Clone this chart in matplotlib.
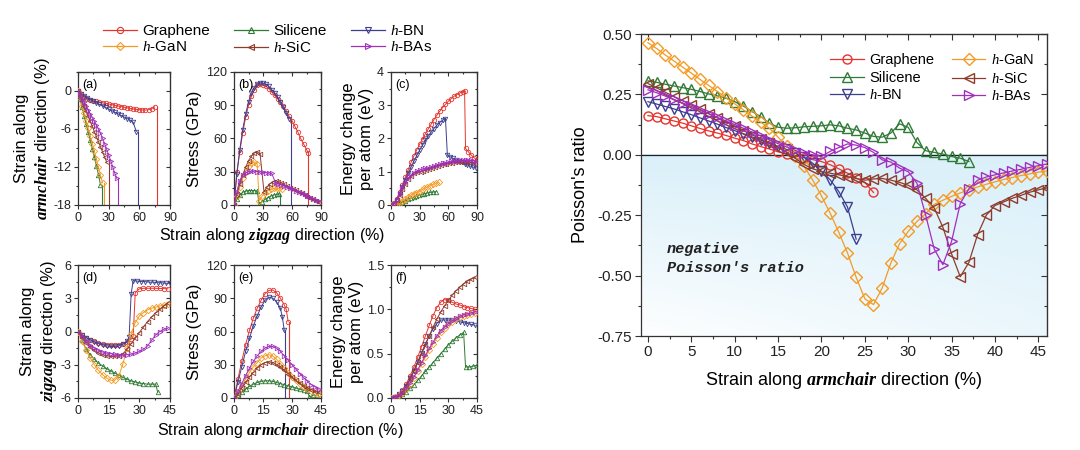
import numpy as np
import matplotlib
matplotlib.use("Agg")
import matplotlib.pyplot as plt
from matplotlib.ticker import MultipleLocator, FormatStrFormatter
from matplotlib.lines import Line2D

plt.rcParams["font.family"] = ["Liberation Sans", "DejaVu Sans"]
plt.rcParams["mathtext.fontset"] = "custom"
plt.rcParams["mathtext.rm"] = "Liberation Sans"
plt.rcParams["mathtext.it"] = "Liberation Serif:italic"
plt.rcParams["mathtext.bf"] = "Liberation Serif:italic:bold"
plt.rcParams["axes.unicode_minus"] = False

# --- materials / styles ---
names = ["Graphene", "Silicene", "h-BN", "h-GaN", "h-SiC", "h-BAs"]
labels = ["Graphene", "Silicene", "$h$-BN", "$h$-GaN", "$h$-SiC", "$h$-BAs"]
colors = ["#e5352f", "#2f7a34", "#3c3f8e", "#f39b25", "#8e3b2c", "#a12fbd"]
markers = ["o", "^", "v", "D", "<", ">"]

# --- (a) strain along armchair vs zigzag strain ---
a_x = [np.arange(0, 76, 3), np.arange(0, 23, 2), np.arange(0, 58, 3),
       np.arange(0, 25, 2), np.arange(0, 29, 2), np.arange(0, 39, 2)]
a_graphene = [0, -0.5, -0.9, -1.2, -1.4, -1.55, -1.65, -1.75, -1.85, -1.95, -2.05, -2.15, -2.25,
              -2.35, -2.45, -2.55, -2.65, -2.75, -2.85, -2.9, -2.95, -3.0, -3.0, -2.95, -2.8, -2.5]
a_silicene = [0, -1.3, -2.6, -3.9, -5.2, -6.5, -7.8, -9.1, -10.4, -11.8, -13.2, -14.8]
a_bn = [0, -0.4, -0.75, -1.05, -1.35, -1.6, -1.85, -2.1, -2.35, -2.6, -2.85, -3.1, -3.35,
        -3.6, -3.85, -4.1, -4.35, -4.6, -4.95, -6.4]
a_gan = [0, -1.1, -2.3, -3.5, -4.7, -5.9, -7.1, -8.3, -9.5, -10.8, -12.0, -13.3, -14.5]
a_sic = [0, -0.8, -1.6, -2.4, -3.2, -4.0, -4.8, -5.6, -6.4, -7.2, -8.0, -8.8, -9.6, -10.4, -11.2]
a_bas = [0, -0.6, -1.2, -1.8, -2.4, -3.0, -3.6, -4.2, -4.8, -5.4, -6.0, -6.7, -7.5, -8.3,
         -9.2, -10.1, -11.0, -12.0, -13.0, -13.8]
a_y = [a_graphene, a_silicene, a_bn, a_gan, a_sic, a_bas]
a_fracture = [77, 23.5, 58.5, 25, 30, 39]

# --- (b) stress vs zigzag strain ---
b_x = [np.r_[np.arange(0, 76, 3), 77],
       np.r_[np.arange(0, 25, 3), np.arange(26, 48, 3)],
       np.arange(0, 58, 3),
       np.r_[np.arange(0, 25, 3), np.arange(26, 51, 3)],
       np.r_[np.arange(0, 30, 3), np.arange(31, 90, 3)],
       np.r_[np.arange(0, 42, 3), np.arange(43, 90, 3)]]
b_graphene = [0, 30, 48, 65, 79, 90, 98, 104, 108, 109, 108.5, 107, 105, 102, 99, 96, 93, 89,
              85, 80, 76, 71, 66, 60, 55, 50, 47]
b_silicene = [0, 5, 9, 11.5, 12.5, 13, 13, 13, 12.5, 1, 3, 5, 6.5, 8, 9, 9.5, 10]
b_bn = [0, 28, 50, 68, 82, 93, 101, 106, 109, 110, 110, 109, 107, 104, 101, 97, 93, 88, 83, 78]
b_gan = [0, 8, 16, 24, 30, 35, 38, 39, 37, 4, 8, 11, 13, 14, 15, 15, 15, 14]
b_sic = [0, 10, 19, 27, 34, 40, 44, 47, 48, 46,
         12, 16, 19, 21, 22, 21, 20, 18.5, 17, 15.5, 14.5, 13.5, 12, 10.5, 9, 7.5, 6, 5, 4, 3]
b_bas = [0, 12, 22, 27, 29, 30, 30.5, 30.5, 30, 30, 29.5, 29, 29, 28.5,
         20, 19, 18, 17, 16, 15, 14, 13, 12, 11, 9.5, 8, 7, 5.5, 4.5, 3.5]
b_y = [b_graphene, b_silicene, b_bn, b_gan, b_sic, b_bas]
b_fracture = [77, 48, 59, None, None, None]

# --- (c) energy vs zigzag strain ---
c_x = [np.r_[np.arange(0, 76, 3), 77, np.arange(78, 91, 3)],
       b_x[1],
       np.r_[np.arange(0, 58, 3), np.arange(59, 90, 3)],
       b_x[3],
       b_x[4],
       np.arange(0, 91, 3)]
c_graphene = [0, 0.05, 0.18, 0.38, 0.6, 0.83, 1.06, 1.28, 1.48, 1.66, 1.83, 1.99, 2.14, 2.29,
              2.43, 2.57, 2.7, 2.82, 2.93, 3.03, 3.12, 3.2, 3.27, 3.32, 3.37, 3.41, 3.43,
              1.7, 1.6, 1.5, 1.42, 1.35]
c_silicene = [0, 0.005, 0.02, 0.05, 0.09, 0.13, 0.17, 0.21, 0.24, 0.26, 0.29, 0.32, 0.34,
              0.36, 0.38, 0.39, 0.4]
c_bn = [0, 0.04, 0.16, 0.34, 0.54, 0.75, 0.95, 1.14, 1.32, 1.49, 1.65, 1.8, 1.94, 2.07, 2.19,
        2.3, 2.4, 2.48, 2.55, 2.6,
        1.5, 1.45, 1.4, 1.36, 1.32, 1.28, 1.24, 1.2, 1.17, 1.14, 1.12]
c_gan = [0, 0.01, 0.03, 0.07, 0.13, 0.19, 0.25, 0.3, 0.34, 0.36, 0.4, 0.45, 0.5, 0.54, 0.58,
         0.62, 0.65, 0.68]
c_sic = [0, 0.04, 0.15, 0.31, 0.48, 0.64, 0.78, 0.88, 0.95, 0.99,
         1.0, 1.03, 1.06, 1.09, 1.12, 1.15, 1.18, 1.2, 1.22, 1.24, 1.26, 1.27, 1.28, 1.29,
         1.3, 1.3, 1.3, 1.29, 1.28, 1.27]
c_bas = [0, 0.04, 0.15, 0.32, 0.5, 0.67, 0.8, 0.9, 0.97, 1.02, 1.05, 1.08, 1.1, 1.12, 1.15,
         1.18, 1.21, 1.23, 1.25, 1.27, 1.29, 1.31, 1.32, 1.33, 1.34, 1.35, 1.35, 1.35, 1.34,
         1.33, 1.32]
c_y = [c_graphene, c_silicene, c_bn, c_gan, c_sic, c_bas]

# --- (d) strain along zigzag vs armchair strain ---
d_x = [np.r_[np.arange(0, 27, 2), 27, np.arange(28, 45, 2)],
       np.r_[np.arange(0, 39, 2), 39],
       np.r_[np.arange(0, 25, 2), 25, 26, np.arange(27, 46, 2)],
       np.arange(0, 45, 2), np.arange(0, 45, 2), np.arange(0, 45, 2)]
d_graphene = [0, -0.3, -0.55, -0.75, -0.9, -1.05, -1.15, -1.2, -1.25, -1.25, -1.2, -1.1, -0.95,
              -0.7, -0.4, 3.5, 3.85, 3.9, 3.9, 3.9, 3.9, 3.88, 3.87, 3.85]
d_silicene = [0, -0.8, -1.6, -2.1, -2.5, -2.85, -3.1, -3.35, -3.55, -3.75, -3.95, -4.15, -4.3,
              -4.45, -4.55, -4.65, -4.7, -4.75, -4.75, -4.75, -5.5]
d_bn = [0, -0.3, -0.55, -0.75, -0.95, -1.1, -1.2, -1.3, -1.35, -1.35, -1.3, -1.15, -0.9,
        -0.5, 3.4, 4.6, 4.55, 4.5, 4.5, 4.45, 4.45, 4.4, 4.4, 4.35, 4.35]
d_gan = [0, -0.9, -1.7, -2.4, -3.0, -3.5, -3.9, -4.2, -4.4, -4.4, -4.0, -2.9, -1.5, -0.2, 0.8,
         1.4, 1.7, 1.95, 2.1, 2.2, 2.3, 2.4, 2.5]
d_sic = [0, -0.5, -1.0, -1.4, -1.7, -1.95, -2.1, -2.2, -2.25, -2.25, -2.2, -2.0, -1.6, -1.1,
         -0.6, -0.1, 0.4, 0.9, 1.3, 1.7, 2.0, 2.3, 2.6]
d_bas = [0, -0.45, -0.9, -1.25, -1.5, -1.7, -1.85, -1.95, -2.0, -2.05, -2.1, -2.1, -2.1, -2.05,
         -1.95, -1.8, -1.6, -1.3, -0.8, -0.3, 0.0, 0.2, 0.3]
d_y = [d_graphene, d_silicene, d_bn, d_gan, d_sic, d_bas]

# --- (e) stress vs armchair strain ---
e_x = [np.r_[np.arange(0, 27, 2), 27, 28],
       np.r_[np.arange(0, 39, 2), np.arange(39, 45, 2)],
       np.r_[np.arange(0, 25, 2), 25, 26],
       np.arange(0, 45, 2), np.arange(0, 45, 2), np.arange(0, 45, 2)]
e_graphene = [0, 17, 33, 48, 61, 72, 81, 88, 94, 97, 97.5, 95, 90, 84, 80, 69]
e_silicene = [0, 2.5, 5, 8, 10.5, 12.5, 14, 15, 15.5, 15.5, 15, 14, 13, 12, 11, 10, 9, 8, 7, 6,
              1, 2.5, 2.5]
e_bn = [0, 14, 28, 42, 54, 65, 74, 82, 88, 91, 90, 87, 81, 73, 61]
e_gan = [0, 5, 11, 17, 23, 28, 32, 36, 38, 39, 38, 35, 31, 27, 23, 19, 16, 13, 10, 8, 6, 4.5, 3.5]
e_sic = [0, 4, 9, 14, 19, 23, 27, 30, 32, 32.5, 32, 30, 28, 25, 22, 19, 16, 13.5, 11, 9, 7.5, 6, 5]
e_bas = [0, 6, 13, 20, 27, 33, 38, 42, 45, 46.5, 46.5, 45, 42, 38, 34, 30, 26, 22, 18.5, 15, 12,
         10, 8]
e_y = [e_graphene, e_silicene, e_bn, e_gan, e_sic, e_bas]
e_fracture = [28.3, None, 26.3, None, None, None]

# --- (f) energy vs armchair strain ---
f_x = [np.arange(0, 45, 2), np.r_[np.arange(0, 39, 2), np.arange(39, 46, 2)],
       np.arange(0, 45, 2), np.arange(0, 45, 2), np.arange(0, 45, 2), np.arange(0, 45, 2)]
f_graphene = [0, 0.01, 0.04, 0.09, 0.16, 0.25, 0.35, 0.46, 0.58, 0.7, 0.82, 0.93, 1.02, 1.08,
              1.11, 1.1, 1.08, 1.06, 1.05, 1.03, 1.02, 1.01, 1.0]
f_silicene = [0, 0.005, 0.02, 0.04, 0.07, 0.11, 0.15, 0.2, 0.25, 0.3, 0.35, 0.4, 0.45, 0.5,
              0.55, 0.6, 0.64, 0.68, 0.71, 0.74, 0.35, 0.35, 0.36, 0.37]
f_bn = [0, 0.01, 0.04, 0.08, 0.14, 0.22, 0.31, 0.41, 0.51, 0.61, 0.7, 0.78, 0.84, 0.88, 0.88,
        0.88, 0.88, 0.87, 0.86, 0.85, 0.84, 0.83, 0.82]
f_gan = [0, 0.01, 0.03, 0.06, 0.1, 0.16, 0.23, 0.3, 0.38, 0.46, 0.54, 0.61, 0.68, 0.74, 0.79,
         0.83, 0.86, 0.89, 0.91, 0.93, 0.94, 0.95, 0.96]
f_sic = [0, 0.01, 0.03, 0.07, 0.13, 0.21, 0.3, 0.4, 0.5, 0.6, 0.7, 0.8, 0.89, 0.97, 1.04, 1.1,
         1.16, 1.21, 1.25, 1.29, 1.32, 1.34, 1.36]
f_bas = [0, 0.01, 0.03, 0.06, 0.11, 0.17, 0.24, 0.32, 0.4, 0.48, 0.56, 0.63, 0.7, 0.76, 0.8,
         0.84, 0.87, 0.9, 0.92, 0.94, 0.95, 0.96, 0.97]
f_y = [f_graphene, f_silicene, f_bn, f_gan, f_sic, f_bas]

# --- Poisson's ratio vs armchair strain (1 % steps from 0) ---
pr_graphene = [0.162, 0.158, 0.149, 0.140, 0.131, 0.120, 0.109, 0.099, 0.090, 0.080, 0.069,
               0.059, 0.045, 0.034, 0.024, 0.012, 0.004, -0.005, -0.012, -0.020, -0.028,
               -0.041, -0.058, -0.076, -0.096, -0.114, -0.156]
pr_silicene = [0.306, 0.300, 0.292, 0.285, 0.278, 0.271, 0.262, 0.252, 0.244, 0.234, 0.220,
               0.202, 0.179, 0.158, 0.131, 0.114, 0.110, 0.112, 0.116, 0.118, 0.120, 0.124,
               0.120, 0.110, 0.103, 0.090, 0.076, 0.073, 0.090, 0.128, 0.114, 0.051, 0.017,
               0.010, 0.003, -0.007, -0.014, -0.028]
pr_bn = [0.22, 0.21, 0.2, 0.19, 0.178, 0.166, 0.153, 0.14, 0.127, 0.113, 0.1, 0.087, 0.074,
         0.061, 0.048, 0.035, 0.022, 0.008, -0.01, -0.035, -0.069, -0.103, -0.152, -0.216,
         -0.349]
pr_gan = [0.464, 0.44, 0.413, 0.388, 0.363, 0.338, 0.312, 0.287, 0.262, 0.236, 0.211, 0.186,
          0.16, 0.135, 0.11, 0.073, 0.037, -0.005, -0.048, -0.105, -0.17, -0.241, -0.321,
          -0.406, -0.507, -0.596, -0.62, -0.551, -0.448, -0.368, -0.317, -0.276, -0.245,
          -0.205, -0.188, -0.172, -0.158, -0.145, -0.133, -0.122, -0.112, -0.102, -0.094,
          -0.086, -0.079, -0.072, -0.066]
pr_sic = [0.295, 0.277, 0.259, 0.241, 0.224, 0.206, 0.188, 0.17, 0.153, 0.135, 0.118, 0.1,
          0.083, 0.066, 0.048, 0.03, 0.01, -0.015, -0.04, -0.058, -0.069, -0.076, -0.083,
          -0.09, -0.098, -0.105, -0.1, -0.098, -0.105, -0.114, -0.126, -0.145, -0.18, -0.22,
          -0.3, -0.41, -0.505, -0.445, -0.33, -0.25, -0.21, -0.195, -0.18, -0.168, -0.155,
          -0.145, -0.137]
pr_bas = [0.269, 0.257, 0.243, 0.229, 0.215, 0.2, 0.185, 0.17, 0.155, 0.14, 0.125, 0.11, 0.094,
          0.078, 0.062, 0.046, 0.032, 0.018, 0.007, 0.0, -0.007, 0.014, 0.03, 0.045, 0.04, 0.03,
          0.01, -0.021, -0.03, -0.055, -0.07, -0.117, -0.248, -0.39, -0.455, -0.358, -0.202,
          -0.14, -0.105, -0.092, -0.083, -0.075, -0.067, -0.06, -0.052, -0.045, -0.038]
pr_y = [pr_graphene, pr_silicene, pr_bn, pr_gan, pr_sic, pr_bas]

spine_color = "#333333"


def style_axes(ax, xlim, xmajor, ylim, ymajor, yfmt=None, size=9, major=3, minor=1.6):
    ax.set_xlim(*xlim)
    ax.set_ylim(*ylim)
    for axis, step in ((ax.xaxis, xmajor), (ax.yaxis, ymajor)):
        axis.set_major_locator(MultipleLocator(step))
        axis.set_minor_locator(MultipleLocator(step / 2))
    if yfmt:
        ax.yaxis.set_major_formatter(FormatStrFormatter(yfmt))
    for s in ax.spines.values():
        s.set_color(spine_color)
        s.set_linewidth(0.9)
    ax.tick_params(which="both", direction="out", labelsize=size, width=0.8,
                   colors=spine_color, labelcolor="#222222", pad=2)
    ax.tick_params(which="major", length=major)
    ax.tick_params(which="minor", length=minor)
    # mirrored inward ticks on top and right
    sx = ax.secondary_xaxis("top")
    sx.xaxis.set_major_locator(MultipleLocator(xmajor))
    sx.xaxis.set_minor_locator(MultipleLocator(xmajor / 2))
    sx.tick_params(which="both", direction="in", labeltop=False, width=0.8, colors=spine_color)
    sx.tick_params(which="major", length=major)
    sx.tick_params(which="minor", length=minor)
    sy = ax.secondary_yaxis("right")
    sy.yaxis.set_major_locator(MultipleLocator(ymajor))
    sy.yaxis.set_minor_locator(MultipleLocator(ymajor / 2))
    sy.tick_params(which="both", direction="in", labelright=False, width=0.8, colors=spine_color)
    sy.tick_params(which="major", length=major)
    sy.tick_params(which="minor", length=minor)


def draw_small(ax, xs, ys, fractures=None, bottom=0.0):
    for i in range(len(names)):
        ax.plot(xs[i], ys[i], color=colors[i], lw=0.7, marker=markers[i], ms=3.2,
                mfc="none", mec=colors[i], mew=0.6, zorder=3)
        if fractures and fractures[i] is not None:
            ax.plot([fractures[i], fractures[i]], [ys[i][-1], bottom], color=colors[i],
                    lw=0.8, zorder=2)


fig = plt.figure(figsize=(10.8, 4.5), dpi=100)
W, H = 1080.0, 450.0


def px_axes(left, top, right, bottom):
    return fig.add_axes([left / W, 1 - bottom / H, (right - left) / W, (bottom - top) / H])


ax_a = px_axes(78, 72, 170, 205)
ax_b = px_axes(234, 72, 321, 205)
ax_c = px_axes(391, 72, 477, 205)
ax_d = px_axes(78, 265, 170, 398)
ax_e = px_axes(234, 265, 321, 398)
ax_f = px_axes(391, 265, 477, 398)
ax_p = px_axes(641, 34, 1047, 336)

draw_small(ax_a, a_x, a_y, a_fracture, bottom=-18)
style_axes(ax_a, (0, 90), 30, (-18, 3), 6)
draw_small(ax_b, b_x, b_y, b_fracture, bottom=0)
style_axes(ax_b, (0, 90), 30, (0, 120), 30)
draw_small(ax_c, c_x, c_y)
style_axes(ax_c, (0, 90), 30, (0, 4), 1)
draw_small(ax_d, d_x, d_y)
style_axes(ax_d, (0, 45), 15, (-6, 6), 3)
draw_small(ax_e, e_x, e_y, e_fracture, bottom=0)
style_axes(ax_e, (0, 45), 15, (0, 120), 30)
draw_small(ax_f, f_x, f_y)
style_axes(ax_f, (0, 45), 15, (0, 1.5), 0.5, yfmt="%.1f")

for ax, tag in zip([ax_a, ax_b, ax_c, ax_d, ax_e, ax_f], "abcdef"):
    ax.text(0.05, 0.95, f"({tag})", transform=ax.transAxes, ha="left", va="top", fontsize=9)

ylab = 12
ax_a.set_ylabel("Strain along\n$\\mathbf{armchair}$ direction (%)", fontsize=ylab,
                linespacing=1.25, labelpad=1)
ax_b.set_ylabel("Stress (GPa)", fontsize=ylab, labelpad=3)
ax_c.set_ylabel("Energy change\nper atom (eV)", fontsize=ylab, linespacing=1.25, labelpad=2)
ax_d.set_ylabel("Strain along\n$\\mathbf{zigzag}$ direction (%)", fontsize=ylab,
                linespacing=1.25, labelpad=1)
ax_e.set_ylabel("Stress (GPa)", fontsize=ylab, labelpad=3)
ax_f.set_ylabel("Energy change\nper atom (eV)", fontsize=ylab, linespacing=1.25, labelpad=2)

fig.text(272 / W, 1 - 236 / H, "Strain along $\\mathbf{zigzag}$ direction (%)",
         ha="center", va="center", fontsize=11.5)
fig.text(280 / W, 1 - 431 / H, "Strain along $\\mathbf{armchair}$ direction (%)",
         ha="center", va="center", fontsize=11.5)

# top-left legend
handles = [Line2D([], [], color=colors[i], lw=0.9, marker=markers[i], ms=4.5, mfc="none",
                  mec=colors[i], mew=0.8) for i in range(len(names))]
order = [0, 3, 1, 4, 2, 5]
fig.legend([handles[i] for i in order], [labels[i] for i in order], ncol=3,
           loc="upper left", bbox_to_anchor=(103 / W, 1 - 24 / H), frameon=False,
           fontsize=11, handlelength=2.2, handletextpad=0.35, columnspacing=1.6,
           labelspacing=0.15, borderpad=0, borderaxespad=0, numpoints=1)

# --- right panel: Poisson's ratio ---
xlo, xhi = -0.8, 46
ny, nx = 120, 240
ty = np.linspace(0, 1, ny)[:, None]
tx = np.linspace(0, 1, nx)[None, :]
strength = 1 - ty * (0.95 - 0.5 * tx)
blue = np.array([0.855, 0.94, 0.978])
shade = 1 - strength[..., None] * (1 - blue)
ax_p.imshow(shade, extent=(xlo, xhi, -0.75, 0), aspect="auto", origin="upper", zorder=0,
            interpolation="bilinear")
ax_p.axhline(0, color="#222222", lw=0.9, zorder=1)

for i in range(len(names)):
    x = np.arange(len(pr_y[i]))
    ms = 6.2 if markers[i] == "D" else 6.8
    if markers[i] == "o":
        ms = 6.5
    ax_p.plot(x, pr_y[i], color=colors[i], lw=0.9, marker=markers[i], ms=ms, mfc="none",
              mec=colors[i], mew=1.0, zorder=3, label=labels[i])

style_axes(ax_p, (xlo, xhi), 5, (-0.75, 0.5), 0.25, yfmt="%.2f", size=11, major=4.5, minor=2.5)
ax_p.set_xlim(xlo, xhi)
ax_p.set_ylim(-0.75, 0.5)
ax_p.set_ylabel("Poisson's ratio", fontsize=13, labelpad=6)
ax_p.set_xlabel("Strain along $\\mathbf{armchair}$ direction (%)", fontsize=13, labelpad=8)
ax_p.text(2.2, -0.36, "negative\nPoisson's ratio", family="Liberation Mono",
          fontweight="bold", fontstyle="italic", fontsize=11, linespacing=1.5,
          ha="left", va="top", color="#222222")
ax_p.legend(ncol=2, loc="upper left", bbox_to_anchor=(830 / W, 1 - 53 / H),
            bbox_transform=fig.transFigure, frameon=False, fontsize=10.5,
            handlelength=2.3, handletextpad=0.4, columnspacing=1.2, labelspacing=0.25,
            borderpad=0, borderaxespad=0, numpoints=1)

fig.savefig("out.png", dpi=100, facecolor="white")
